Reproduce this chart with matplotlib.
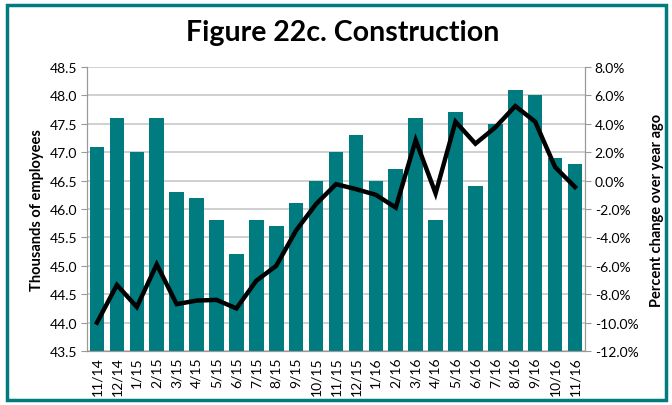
import matplotlib.pyplot as plt
from matplotlib.patches import Rectangle
import numpy as np

months = ['11/14', '12/14', '1/15', '2/15', '3/15', '4/15', '5/15', '6/15', '7/15',
          '8/15', '9/15', '10/15', '11/15', '12/15', '1/16', '2/16', '3/16', '4/16',
          '5/16', '6/16', '7/16', '8/16', '9/16', '10/16', '11/16']
employees = [47.1, 47.6, 47.0, 47.6, 46.3, 46.2, 45.8, 45.2, 45.8, 45.7, 46.1, 46.5,
             47.0, 47.3, 46.5, 46.7, 47.6, 45.8, 47.7, 46.4, 47.5, 48.1, 48.0, 46.9, 46.8]
pct_change = [-10.0, -7.35, -8.9, -5.9, -8.7, -8.45, -8.4, -9.0, -7.05, -6.0, -3.5, -1.65,
              -0.25, -0.6, -1.0, -1.9, 2.85, -0.9, 4.15, 2.6, 3.75, 5.25, 4.15, 0.95, -0.45]

TEAL = '#007b7f'
FONT = 'Lato'

fig = plt.figure(figsize=(6.72, 4.06), dpi=100)
ax = fig.add_axes([0.1295, 0.133, 0.741, 0.6995])
ax2 = ax.twinx()

x = np.arange(len(months))
ax.bar(x, employees, width=0.73, color=TEAL, zorder=2)
ax.set_ylim(43.5, 48.5)
ax.set_yticks(np.arange(43.5, 48.51, 0.5))
ax.set_yticklabels([f'{v:.1f}' for v in np.arange(43.5, 48.51, 0.5)], fontfamily=FONT, fontsize=10)
ax.yaxis.grid(True, color='#c8c8c8', linewidth=1.2, zorder=0)
ax.set_axisbelow(True)
ax.set_xlim(-0.5, len(months) - 0.5)
ax.set_xticks(x)
ax.set_xticklabels(months, rotation=90, fontfamily=FONT, fontsize=10)
ax.tick_params(axis='x', length=0, pad=4)
ax.tick_params(axis='y', length=4, color='#999999', pad=3)
ax.set_ylabel('Thousands of employees', fontfamily=FONT, fontweight='bold', fontsize=10.5, labelpad=4)

ax2.plot(x, pct_change, color='black', linewidth=3.2, solid_joinstyle='miter', zorder=3)
ax2.set_ylim(-12, 8)
ax2.set_yticks(np.arange(-12, 8.1, 2))
ax2.set_yticklabels([f'{v:.1f}%' for v in np.arange(-12, 8.1, 2)], fontfamily=FONT, fontsize=10)
ax2.tick_params(axis='y', length=4, color='#999999', pad=3)
ax2.set_ylabel('Percent change over year ago', fontfamily=FONT, fontweight='bold', fontsize=10.5,
               rotation=90, labelpad=8)

for a in (ax, ax2):
    a.spines['top'].set_visible(False)
    for s in ('left', 'right', 'bottom'):
        a.spines[s].set_color('#999999')

fig.text(0.51, 0.918, 'Figure 22c. Construction', ha='center', va='center',
         fontfamily=FONT, fontweight='bold', fontsize=20.5)

fig.patches.append(Rectangle((0.011, 0.012), 0.98, 0.973, transform=fig.transFigure,
                             fill=False, edgecolor=TEAL, linewidth=2.5))

fig.savefig('out.png', dpi=100)
